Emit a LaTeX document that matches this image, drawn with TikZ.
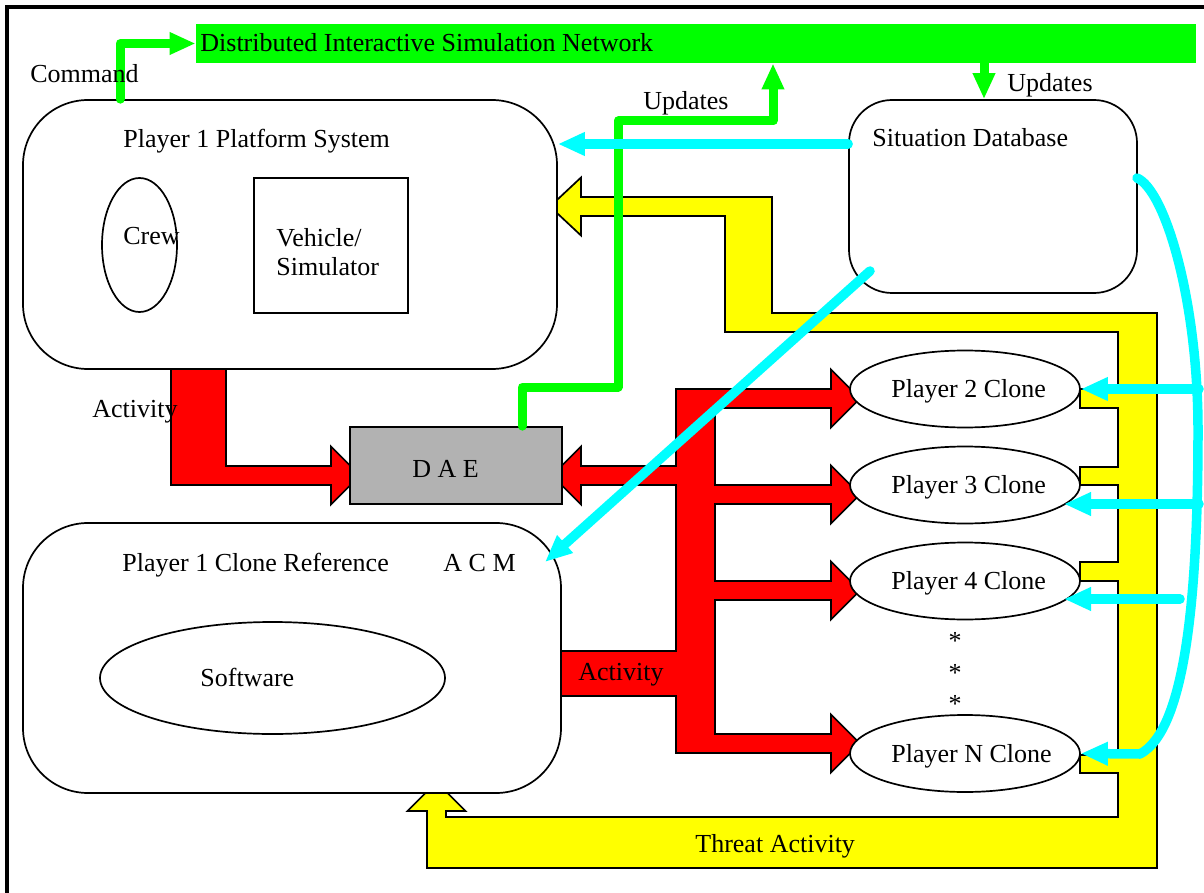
\documentclass[tikz,border=0pt]{standalone}
\usepackage{fontspec}
\setmainfont{Liberation Serif}
\usetikzlibrary{arrows.meta,calc,shapes.geometric}

\definecolor{netgreen}{RGB}{0,255,0}
\definecolor{flowcyan}{RGB}{0,255,255}
\definecolor{threatyellow}{RGB}{255,255,0}
\definecolor{actred}{RGB}{255,0,0}
\definecolor{daegray}{RGB}{178,178,178}

\begin{document}
\begin{tikzpicture}[x=0.5pt,y=-0.5pt,
  txt/.style={font=\fontsize{13}{15}\selectfont, inner sep=0pt, anchor=base west},
  outline/.style={draw=black, line width=0.85pt},
  bigbox/.style={outline, fill=white, rounded corners=32.5pt, inner sep=0pt},
  clone/.style={outline, fill=white, ellipse, inner sep=0pt,
                minimum width=115pt, minimum height=38.5pt},
  fatarrow/.style={outline, line join=miter},
  gline/.style={draw=netgreen, line width=4.5pt, line cap=round, line join=round,
                -{Triangle[length=13pt,width=10.5pt]}},
  cline/.style={draw=flowcyan, line width=4.75pt, line cap=round, line join=round,
                -{Triangle[length=13.5pt,width=11pt]}}]

\useasboundingbox (0,0) rectangle (1204,893);

% page frame (left and top only)
\draw[line width=2pt] (6.5,893) -- (6.5,7) -- (1204,7);

% DIS network bar
\node[fill=netgreen, minimum width=500pt, minimum height=19.5pt, inner sep=0pt] (net) at (696,43.5) {};
\node[txt] (nettxt) at (200,52) {Distributed Interactive Simulation Network};

% threat activity loop (yellow)
\filldraw[fatarrow, fill=threatyellow]
  (550,206.5) -- (581,177.5) -- (581,197) -- (772,197) -- (772,313) -- (1157,313)
  -- (1157,868) -- (427,868) -- (427,811) -- (407.5,811) -- (436.5,782) -- (465.5,811)
  -- (446,811) -- (446,817) -- (1118,817)
  -- (1118,773) -- (1080,773) -- (1080,755) -- (1118,755)
  -- (1118,581) -- (1080,581) -- (1080,562) -- (1118,562)
  -- (1118,485) -- (1080,485) -- (1080,467) -- (1118,467)
  -- (1118,408) -- (1080,408) -- (1080,389) -- (1118,389)
  -- (1118,332) -- (725,332) -- (725,216) -- (581,216) -- (581,235.5) -- cycle;

% platform activity into the DAE (red)
\filldraw[fatarrow, fill=actred]
  (171,365) -- (226,365) -- (226,466) -- (331,466) -- (331,446.5) -- (360,475.5)
  -- (331,504.5) -- (331,485) -- (171,485) -- cycle;

% clone activity tree (red)
\filldraw[fatarrow, fill=actred]
  (552,475.5) -- (581,446.5) -- (581,466) -- (676,466) -- (676,389)
  -- (831,389) -- (831,369.5) -- (860,398.5) -- (831,427.5) -- (831,408)
  -- (715,408) -- (715,485)
  -- (831,485) -- (831,465.5) -- (860,494.5) -- (831,523.5) -- (831,504)
  -- (715,504) -- (715,581)
  -- (831,581) -- (831,561.5) -- (860,590.5) -- (831,619.5) -- (831,600)
  -- (715,600) -- (715,734)
  -- (831,734) -- (831,714.5) -- (860,743.5) -- (831,772.5) -- (831,753)
  -- (676,753) -- (676,696) -- (550,696) -- (550,651) -- (676,651)
  -- (676,485) -- (581,485) -- (581,504.5) -- cycle;

% main blocks
\node[bigbox, minimum width=267pt, minimum height=134.5pt] (p1sys) at (290,234.5) {};
\node[bigbox, minimum width=269pt, minimum height=135pt] (p1ref) at (292,658) {};
\node[bigbox, rounded corners=21.5pt, minimum width=144pt, minimum height=96.5pt] (sitdb) at (993,196.5) {};
\node[outline, ellipse, inner sep=0pt, minimum width=37.5pt, minimum height=67pt] (crew) at (139.5,245) {};
\node[outline, rectangle, inner sep=0pt, minimum width=77pt, minimum height=67.5pt] (vehicle) at (331,245.5) {};
\node[outline, fill=daegray, inner sep=0pt, minimum width=106pt, minimum height=38.5pt] (dae) at (456,465.5) {};
\node[outline, ellipse, inner sep=0pt, minimum width=172.5pt, minimum height=56pt] (software) at (272.5,678) {};
\node[clone] (c2) at (965,389) {};
\node[clone] (c3) at (965,485) {};
\node[clone] (c4) at (965,581) {};
\node[clone] (cN) at (965,753.5) {};

% green update / command links
\coordinate (cmdx) at (120,0);
\coordinate (updx) at (984,0);
\coordinate (daex) at (522,0);
\coordinate (netx) at (773,0);
\draw[gline] (p1sys.north -| cmdx) |- (net.west);
\draw[gline] (net.south -| updx) -- (sitdb.north -| updx);
\draw[gline] (dae.north -| daex) -- (522,387) -- (618,387) -- (618,121) -- (773,121) -- (net.south -| netx);

% cyan situation links
\coordinate (cy1) at (0,144);
\coordinate (dbLow) at (870,271);
\coordinate (acm) at (545,562);
\coordinate (dbRight) at (1137,178);
\coordinate (c3in) at (1064,504);
\coordinate (c4in) at (1064,599);
\draw[cline] (sitdb.west |- cy1) -- (p1sys.east |- cy1);
\draw[cline] (dbLow) -- (acm);
\draw[cline] (dbRight) .. controls (1165,190) and (1198,300) .. (1198,430)
  .. controls (1198,600) and (1185,730) .. (1140,754) -- (cN.east);
\draw[cline] (1199,389) -- (c2.east);
\draw[cline] (1199,504) -- (c3in);
\draw[cline] (1180,599) -- (c4in);

% labels
\node[txt] (lcmd) at (30,83) {Command};
\node[txt] (lupd1) at (643,110) {Updates};
\node[txt] (lupd2) at (1007,92) {Updates};
\node[txt] (lp1sys) at (123,148) {Player 1 Platform System};
\node[txt] (lsit) at (872,147) {Situation Database};
\node[txt] (lcrew) at (123,245) {Crew};
\node[txt] (lveh1) at (276,247) {Vehicle/};
\node[txt] (lveh2) at (276,276) {Simulator};
\node[txt] (lact1) at (92,417) {Activity};
\node[txt] (ldae) at (412,477) {D A E};
\node[txt] (lp1ref) at (122,571) {Player 1 Clone Reference};
\node[txt] (lacm) at (443,571) {A C M};
\node[txt] (lsoft) at (200,686) {Software};
\node[txt] (lact2) at (578,680) {Activity};
\node[txt] (lc2) at (891,397) {Player 2 Clone};
\node[txt] (lc3) at (891,493) {Player 3 Clone};
\node[txt] (lc4) at (891,589) {Player 4 Clone};
\node[txt] (lcN) at (891,762) {Player N Clone};
\node[txt, anchor=base] (ast1) at (955,649) {*};
\node[txt, anchor=base] (ast2) at (955,681) {*};
\node[txt, anchor=base] (ast3) at (955,712) {*};
\node[txt] (lthreat) at (695,852) {Threat Activity};

\end{tikzpicture}
\end{document}
